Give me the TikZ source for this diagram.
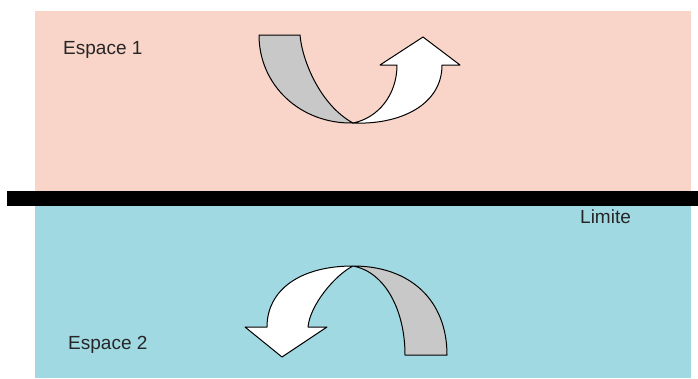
\documentclass[tikz,border=0pt]{standalone}
\usepackage{fontspec}
\setmainfont{Liberation Sans}
\definecolor{espaceun}{RGB}{249,212,200}
\definecolor{espacedeux}{RGB}{161,217,226}
\definecolor{bande}{RGB}{200,200,200}

\begin{document}
\begin{tikzpicture}[
	x=1pt, y=-1pt,
	zone/.style={draw=none},
	ribbon/.style={draw=black, line width=1pt, line join=round},
	label/.style={anchor=base west, font=\fontsize{19}{23}\selectfont, text=black!85, inner sep=0pt}
]
	\useasboundingbox (0,0) rectangle (698,378);

	% Spaces
	\fill[zone, espaceun] (35,11) rectangle (691,192);
	\fill[zone, espacedeux] (35,206) rectangle (691,378);
	\fill[black] (7,191) rectangle (698,206);

	% Labels
	\node[label] (esp1) at (63,54) {Espace 1};
	\node[label] (lim) at (580,223) {Limite};
	\node[label] (esp2) at (68,349) {Espace 2};

	% Upper arrow
	\filldraw[ribbon, fill=bande] (259,35) -- (300,35)
		.. controls (302,60) and (320,105) .. (353,123)
		.. controls (300,124) and (259,85) .. cycle;
	\filldraw[ribbon, fill=white] (353,123)
		.. controls (400,125) and (442,105) .. (442,65)
		-- (460,65) -- (423,37) -- (380,65) -- (397,65)
		.. controls (397,95) and (378,118) .. cycle;

	% Lower arrow
	\filldraw[ribbon, fill=bande] (353,266)
		.. controls (410,266) and (447,300) .. (447,355)
		-- (405,355)
		.. controls (405,310) and (385,272) .. cycle;
	\filldraw[ribbon, fill=white] (353,266)
		.. controls (300,266) and (267,290) .. (267,327)
		-- (245,327) -- (282,357) -- (327,327) -- (308,327)
		.. controls (310,305) and (335,275) .. cycle;
\end{tikzpicture}
\end{document}
